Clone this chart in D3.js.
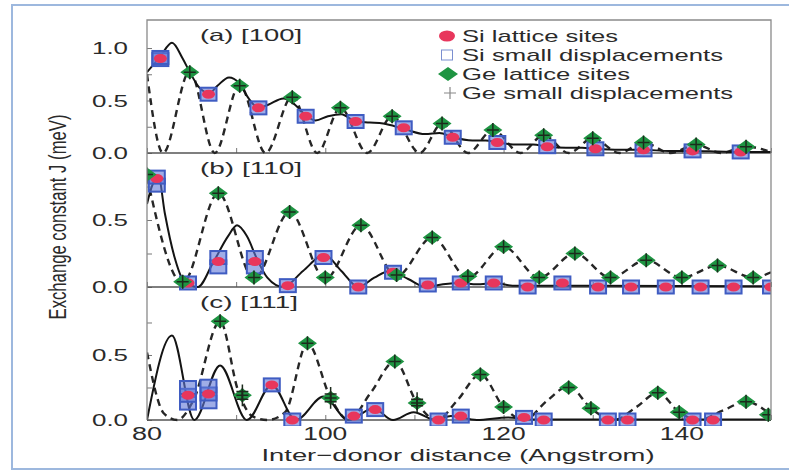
<!DOCTYPE html>
<html>
<head>
<meta charset="utf-8">
<script src="https://cdnjs.cloudflare.com/ajax/libs/d3/7.8.5/d3.min.js"></script>
<style>
  body { margin: 0; background: #fff; }
  text { font-family: "Liberation Sans", Arial, sans-serif; fill: #2a2a2a; }
</style>
</head>
<body>
<div id="chart"></div>
<script>
// ---- Panel (a) [100] ----
var siA_x = [81.5, 86.9, 92.5, 97.8, 103.4, 108.8, 114.3, 119.3, 124.9, 130.3, 135.7, 141.2, 146.6];
var siA_y = [0.90, 0.56, 0.43, 0.35, 0.30, 0.24, 0.15, 0.10, 0.06, 0.04, 0.03, 0.02, 0.01];
var geA_x = [84.8, 90.4, 96.3, 101.7, 107.5, 113.1, 118.8, 124.5, 130.0, 135.7, 141.6, 147.2];
var geA_y = [0.77, 0.64, 0.53, 0.43, 0.35, 0.28, 0.22, 0.17, 0.14, 0.10, 0.08, 0.06];
var siDispA_y = [[0.89, 0.91], [0.56], [0.43], [0.35], [0.30], [0.24], [0.15], [0.10], [0.06], [0.04], [0.03], [0.02], [0.01]];
var geDispA_y = [[0.77], [0.64], [0.53], [0.43], [0.35], [0.28], [0.22], [0.17], [0.14], [0.10], [0.08], [0.06]];
var solidA = [[80, 0.77], [81.5, 0.92], [82.8, 1.05], [84.0, 0.90], [84.8, 0.77], [85.9, 0.62], [87.0, 0.57],
  [87.9, 0.64], [89.2, 0.72], [90.3, 0.67], [91.4, 0.52], [92.5, 0.43], [93.6, 0.46], [95.3, 0.52], [96.6, 0.46],
  [97.8, 0.36], [98.9, 0.31], [100.3, 0.35], [101.8, 0.37], [103.4, 0.30], [105.0, 0.29], [106.5, 0.28],
  [108.8, 0.23], [111.2, 0.18], [112.8, 0.19], [114.3, 0.15], [116.5, 0.12], [118.0, 0.12], [119.3, 0.10],
  [121.5, 0.08], [123.3, 0.08], [124.9, 0.06], [127.0, 0.05], [128.8, 0.05], [130.3, 0.04], [133.0, 0.03],
  [135.7, 0.03], [138.5, 0.02], [141.2, 0.02], [144.0, 0.015], [146.6, 0.01], [150, 0.01]];
var dashedA = [[80, 0.75], [81.8, 0], [84.8, 0.78], [87.6, 0], [90.4, 0.65], [93.3, 0], [96.3, 0.54], [99.1, 0],
  [101.7, 0.43], [104.7, 0], [107.5, 0.35], [110.6, 0], [113.1, 0.28], [116.0, 0], [118.8, 0.22], [121.9, 0],
  [124.5, 0.17], [127.3, 0], [130.0, 0.14], [133.0, 0], [135.7, 0.10], [138.7, 0], [141.6, 0.08], [144.4, 0],
  [147.2, 0.06], [150, 0.01]];

// ---- Panel (b) [110] ----
var siB_x = [81.1, 84.6, 88.0, 92.1, 95.8, 99.8, 103.7, 107.6, 111.5, 115.2, 118.9, 122.7, 126.6, 130.6, 134.3, 138.2, 142.1, 145.8, 150.0];
var siB_y = [0.81, 0.03, 0.19, 0.19, 0.01, 0.22, 0.0, 0.11, 0.015, 0.03, 0.03, 0.0, 0.03, 0.0, 0.0, 0.0, 0.0, 0.0, 0.0];
var geB_x = [80, 84, 88, 92, 96, 100, 104, 108, 112, 116, 120, 124, 128, 132, 136, 140, 144, 148];
var geB_y = [0.84, 0.04, 0.70, 0.07, 0.56, 0.07, 0.46, 0.09, 0.37, 0.08, 0.30, 0.07, 0.25, 0.07, 0.20, 0.07, 0.16, 0.07];
var siDispB_y = [[0.76, 0.82], [0.03], [0.15, 0.22], [0.15, 0.22], [0.01], [0.22], [0.0], [0.11], [0.015], [0.03],
  [0.03], [0.0], [0.03], [0.0], [0.0], [0.0], [0.0], [0.0], [0.0]];
var geDispB_y = [[0.84], [0.04], [0.70], [0.07], [0.56], [0.07], [0.46], [0.09], [0.37], [0.08], [0.30], [0.07],
  [0.25], [0.07], [0.20], [0.07], [0.16], [0.07]];
var solidB = [[80, 0.62], [80.6, 0.76], [81.3, 0.82], [82.0, 0.55], [83.1, 0.22], [84.0, 0.06], [85.7, 0],
  [87.4, 0.18], [89.1, 0.38], [90.1, 0.46], [91.2, 0.38], [92.4, 0.20], [93.5, 0.07], [95.3, 0], [97.5, 0.12],
  [99.9, 0.24], [101.8, 0.12], [103.7, 0], [105.5, 0.07], [107.2, 0.12], [109.3, 0.06], [111.3, 0], [113.2, 0.02],
  [115.2, 0.03], [117.0, 0.02], [119.0, 0.03], [121.0, 0.01], [123, 0.01], [150, 0.005]];
var dashedB = [[80, 0.82], [84, 0.03], [88, 0.70], [92, 0.06], [96, 0.56], [100, 0.06], [104, 0.46], [108, 0.08],
  [112, 0.37], [116, 0.07], [120, 0.30], [124, 0.07], [128, 0.25], [132, 0.07], [136, 0.20], [140, 0.07],
  [144, 0.16], [148, 0.07], [150, 0.11]];

// ---- Panel (c) [111] ----
var siC_x = [84.6, 86.9, 94.0, 96.3, 103.2, 105.6, 112.7, 115.2, 122.3, 124.5, 131.7, 133.9, 141.2, 143.5];
var siC_y = [0.19, 0.20, 0.27, 0.0, 0.03, 0.08, 0.0, 0.03, 0.02, 0.0, 0.0, 0.0, 0.0, 0.0];
var geC_x = [88.2, 90.7, 98.0, 100.6, 107.8, 110.3, 117.4, 120.0, 127.3, 129.8, 137.3, 139.7, 147.2, 149.7];
var geC_y = [0.76, 0.19, 0.59, 0.17, 0.45, 0.13, 0.35, 0.10, 0.25, 0.09, 0.21, 0.06, 0.14, 0.04];
var siDispC_y = [[0.13, 0.19, 0.25], [0.14, 0.20, 0.26], [0.27], [0.0], [0.03], [0.08], [0.0], [0.03], [0.02],
  [0.0], [0.0], [0.0], [0.0], [0.0]];
var geDispC_y = [[0.76], [0.16, 0.19, 0.22], [0.59], [0.14, 0.17, 0.20], [0.45], [0.11, 0.13, 0.16], [0.35],
  [0.10], [0.25], [0.09], [0.21], [0.06], [0.14], [0.04]];
var solidC = [[80, 0], [82.8, 0.65], [85.3, 0], [88.2, 0.42], [91.2, 0], [94.0, 0.27], [96.7, 0], [99.8, 0.18],
  [102.6, 0], [105.4, 0.09], [107.6, 0], [109.9, 0.06], [112.4, 0], [114.1, 0.03], [117.0, 0], [120.5, 0.02],
  [123, 0.003], [150, 0.003]];
var dashedC = [[80, 0.52], [81.9, 0.05], [83.4, 0], [85.2, 0.15], [88.2, 0.76], [90.2, 0.23], [91.8, 0.03],
  [93.5, 0], [95.5, 0.06], [98.0, 0.59], [100.6, 0.17], [102.6, 0], [105.1, 0.21], [107.8, 0.45], [110.3, 0.13],
  [112.5, 0], [114.8, 0.15], [117.4, 0.35], [120.0, 0.10], [122.3, 0], [124.9, 0.15], [127.3, 0.26],
  [129.8, 0.09], [132.4, 0], [134.9, 0.10], [137.3, 0.21], [139.7, 0.06], [141.9, 0], [144.5, 0.07],
  [147.2, 0.14], [150, 0.04]];

// axis / legend text
var x_tick_labels = [80, 100, 120, 140];
var legend_labels = ["Si lattice sites", "Si small displacements", "Ge lattice sites", "Ge small displacements"];

var svg_width = 789;
var svg_height = 472;
var plot_left = 147, plot_right = 771;

var svg = d3.select("#chart").append("svg")
  .attr("width", svg_width)
  .attr("height", svg_height);

// light blue outer border
svg.append("rect")
  .attr("x", 12).attr("y", 5)
  .attr("width", 800).attr("height", 464)
  .attr("fill", "none")
  .attr("stroke", "#9db8de")
  .attr("stroke-width", 2);

var x = d3.scaleLinear().domain([80, 150]).range([plot_left, plot_right]);

var panels = [
  { label: "(a) [100]", label_len: 102, top: 20, bottom: 153, ymax: 1.267,
    ticks: [0, 0.25, 0.5, 0.75, 1.0], labels: [0, 0.5, 1.0],
    si_x: siA_x, si_y: siA_y, ge_x: geA_x, ge_y: geA_y, si_disp: siDispA_y, ge_disp: geDispA_y,
    solid: solidA, dashed: dashedA },
  { label: "(b) [110]", label_len: 102, top: 153, bottom: 287, ymax: 1.0,
    ticks: [0, 0.25, 0.5, 0.75], labels: [0, 0.5],
    si_x: siB_x, si_y: siB_y, ge_x: geB_x, ge_y: geB_y, si_disp: siDispB_y, ge_disp: geDispB_y,
    solid: solidB, dashed: dashedB },
  { label: "(c) [111]", label_len: 98, top: 287, bottom: 420, ymax: 1.023,
    ticks: [0, 0.25, 0.5, 0.75], labels: [0, 0.5],
    si_x: siC_x, si_y: siC_y, ge_x: geC_x, ge_y: geC_y, si_disp: siDispC_y, ge_disp: geDispC_y,
    solid: solidC, dashed: dashedC }
];

var defs = svg.append("defs");
defs.append("clipPath").attr("id", "plot_clip")
  .append("rect")
  .attr("x", plot_left).attr("y", 14)
  .attr("width", plot_right - plot_left).attr("height", 412);

panels.forEach(function(p) {
  var y = d3.scaleLinear().domain([0, p.ymax]).range([p.bottom, p.top]);

  // y ticks + labels
  var axis_left = d3.axisLeft(y)
    .tickValues(p.ticks)
    .tickSize(-5)
    .tickPadding(19)
    .tickFormat(function(d) { return p.labels.indexOf(d) >= 0 ? d3.format(".1f")(d) : ""; });
  var y_axis = svg.append("g")
    .attr("transform", `translate(${plot_left}, 0)`)
    .call(axis_left);
  y_axis.select(".domain").remove();
  y_axis.selectAll("line").attr("stroke", "#777");
  y_axis.selectAll("text")
    .attr("font-family", "Liberation Sans, Arial, sans-serif")
    .attr("font-size", 16.5)
    .attr("fill", "#2a2a2a")
    .attr("dy", "0.36em")
    .each(function() {
      if (d3.select(this).text() !== "") {
        d3.select(this).attr("textLength", 36).attr("lengthAdjust", "spacingAndGlyphs");
      }
    });

  // x ticks on each panel bottom
  var axis_bottom = d3.axisBottom(x)
    .tickValues([80, 90, 100, 110, 120, 130, 140, 150])
    .tickSize(-5)
    .tickFormat("");
  var x_axis = svg.append("g")
    .attr("transform", `translate(0, ${p.bottom})`)
    .call(axis_bottom);
  x_axis.select(".domain").remove();
  x_axis.selectAll("line").attr("stroke", "#777");

  // panel bottom line
  svg.append("line")
    .attr("x1", plot_left).attr("x2", plot_right)
    .attr("y1", p.bottom).attr("y2", p.bottom)
    .attr("stroke", "#555").attr("stroke-width", 1.3);

  var g = svg.append("g").attr("clip-path", "url(#plot_clip)");

  var line = d3.line()
    .x(d => x(d[0]))
    .y(d => y(d[1]))
    .curve(d3.curveMonotoneX);

  // dashed = Ge, solid = Si
  g.append("path")
    .attr("d", line(p.dashed))
    .attr("fill", "none")
    .attr("stroke", "#262626")
    .attr("stroke-width", 2.4)
    .attr("stroke-dasharray", "7,5");
  g.append("path")
    .attr("d", line(p.solid))
    .attr("fill", "none")
    .attr("stroke", "#141414")
    .attr("stroke-width", 2);

  // Si small displacements (blue squares)
  var si_disp_pts = [];
  p.si_x.forEach(function(xv, i) {
    p.si_disp[i].forEach(function(yv) { si_disp_pts.push([xv, yv]); });
  });
  g.selectAll(".si_sq")
    .data(si_disp_pts)
    .enter()
    .append("rect")
    .attr("x", d => x(d[0]) - 8)
    .attr("y", d => y(d[1]) - 6.5)
    .attr("width", 16)
    .attr("height", 13)
    .attr("fill", "rgba(95,118,215,0.6)")
    .attr("stroke", "#3f5cc2")
    .attr("stroke-width", 2);

  // Si lattice sites (red ellipses)
  g.selectAll(".si_dot")
    .data(p.si_x)
    .enter()
    .append("ellipse")
    .attr("cx", d => x(d))
    .attr("cy", (d, i) => y(p.si_y[i]))
    .attr("rx", 6.5)
    .attr("ry", 4.5)
    .attr("fill", "#e8365c");

  // Ge lattice sites (green diamonds)
  g.selectAll(".ge_dia")
    .data(p.ge_x)
    .enter()
    .append("path")
    .attr("d", "M0,-7L9.5,0L0,7L-9.5,0Z")
    .attr("transform", (d, i) => `translate(${x(d)}, ${y(p.ge_y[i])})`)
    .attr("fill", "#1e9442");

  // Ge small displacements (plus signs)
  var ge_disp_pts = [];
  p.ge_x.forEach(function(xv, i) {
    p.ge_disp[i].forEach(function(yv) { ge_disp_pts.push([xv, yv]); });
  });
  g.selectAll(".ge_plus")
    .data(ge_disp_pts)
    .enter()
    .append("path")
    .attr("d", "M-6,0H6M0,-7V7")
    .attr("transform", d => `translate(${x(d[0])}, ${y(d[1])})`)
    .attr("fill", "none")
    .attr("stroke", "#1c2a1c")
    .attr("stroke-width", 1.5);

  // panel label
  svg.append("text")
    .attr("x", 200)
    .attr("y", p.top + 21)
    .attr("font-size", 16.5)
    .attr("textLength", p.label_len)
    .attr("lengthAdjust", "spacingAndGlyphs")
    .text(p.label);
});

// plot frame (top, left, right)
svg.append("path")
  .attr("d", `M${plot_left},420V20H${plot_right}V420`)
  .attr("fill", "none")
  .attr("stroke", "#8a8a8a")
  .attr("stroke-width", 1.3);

// x tick labels
svg.selectAll(".x_label")
  .data(x_tick_labels)
  .enter()
  .append("text")
  .attr("x", d => x(d))
  .attr("y", 440)
  .attr("text-anchor", "middle")
  .attr("font-size", 18)
  .attr("textLength", d => String(d).length > 2 ? 44 : 30)
  .attr("lengthAdjust", "spacingAndGlyphs")
  .text(d => d);

// axis titles
svg.append("text")
  .attr("x", 458)
  .attr("y", 461)
  .attr("text-anchor", "middle")
  .attr("font-size", 17)
  .attr("textLength", 393)
  .attr("lengthAdjust", "spacingAndGlyphs")
  .text("Inter\u2212donor distance (Angstrom)");

svg.append("text")
  .attr("transform", "translate(66, 217) scale(1.45, 1) rotate(-90)")
  .attr("text-anchor", "middle")
  .attr("font-size", 16.7)
  .attr("textLength", 205)
  .attr("lengthAdjust", "spacingAndGlyphs")
  .text("Exchange constant J (meV)");

// legend
var legend_text_len = [156, 261, 168, 271];
var legend = svg.append("g");
legend_labels.forEach(function(lab, i) {
  var cy = 36 + i * 19;
  if (i === 0) {
    legend.append("ellipse").attr("cx", 447).attr("cy", cy).attr("rx", 8).attr("ry", 5.5).attr("fill", "#e8365c");
  } else if (i === 1) {
    legend.append("rect").attr("x", 441.5).attr("y", cy - 5).attr("width", 11).attr("height", 10)
      .attr("fill", "none").attr("stroke", "#7b8fd0").attr("stroke-width", 1);
  } else if (i === 2) {
    legend.append("path").attr("d", "M0,-7L10,0L0,7L-10,0Z")
      .attr("transform", `translate(448, ${cy})`).attr("fill", "#1e9442");
  } else {
    legend.append("path").attr("d", "M-6,0H6M0,-6V6")
      .attr("transform", `translate(450, ${cy})`)
      .attr("stroke", "#888").attr("stroke-width", 1.2).attr("fill", "none");
  }
  legend.append("text")
    .attr("x", 462)
    .attr("y", cy + 6)
    .attr("font-size", 17)
    .attr("textLength", legend_text_len[i])
    .attr("lengthAdjust", "spacingAndGlyphs")
    .text(lab);
});
</script>
</body>
</html>
